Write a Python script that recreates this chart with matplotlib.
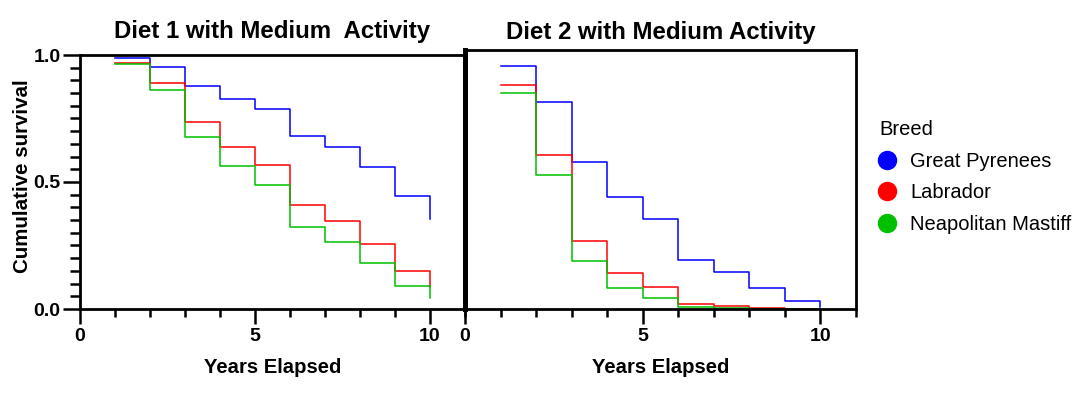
import matplotlib
matplotlib.use("Agg")
import matplotlib.pyplot as plt
from matplotlib.lines import Line2D
from matplotlib.ticker import MultipleLocator

plt.rcParams['font.family'] = ['Liberation Sans', 'DejaVu Sans']

years = [1, 2, 3, 4, 5, 6, 7, 8, 9, 10]
breeds = ["Great Pyrenees", "Labrador", "Neapolitan Mastiff"]
colors = ["#0000ff", "#ff0000", "#00c000"]

# diet 1, medium activity
diet1_pyrenees = [0.987, 0.951, 0.878, 0.826, 0.786, 0.683, 0.638, 0.561, 0.446, 0.354]
diet1_labrador = [0.970, 0.889, 0.735, 0.636, 0.566, 0.409, 0.346, 0.257, 0.149, 0.085]
diet1_mastiff = [0.963, 0.861, 0.679, 0.564, 0.488, 0.322, 0.265, 0.181, 0.090, 0.043]

# diet 2, medium activity
diet2_pyrenees = [0.940, 0.801, 0.566, 0.432, 0.348, 0.190, 0.143, 0.081, 0.030, 0.008]
diet2_labrador = [0.864, 0.593, 0.262, 0.139, 0.084, 0.019, 0.010, 0.004, 0.001, 0.0]
diet2_mastiff = [0.833, 0.518, 0.186, 0.082, 0.042, 0.006, 0.003, 0.0, 0.0, 0.0]

W, H = 1092, 397
fig = plt.figure(figsize=(W / 100, H / 100), dpi=100)

def px_axes(x0, x1, ytop, ybot):
    return fig.add_axes([x0 / W, 1 - ybot / H, (x1 - x0) / W, (ybot - ytop) / H])

ax1 = px_axes(80, 465, 55, 309)
ax2 = px_axes(465, 856, 50, 309)

panels = [
    (ax1, "Diet 1 with Medium  Activity", [diet1_pyrenees, diet1_labrador, diet1_mastiff], 12.5),
    (ax2, "Diet 2 with Medium Activity", [diet2_pyrenees, diet2_labrador, diet2_mastiff], 8),
]

for ax, title, series, tpad in panels:
    for vals, c in zip(series, colors):
        ax.step(years, vals, where='post', color=c, lw=1.1)
    ax.set_xlim(0, 11)
    ax.set_ylim(0, 1)
    ax.xaxis.set_minor_locator(MultipleLocator(1))
    ax.set_xticks([0, 5, 10])
    ax.tick_params(axis='x', which='major', length=11, width=1.8, labelsize=14, pad=3)
    ax.tick_params(axis='x', which='minor', length=6, width=1.8)
    for lbl in ax.get_xticklabels():
        lbl.set_fontweight('bold')
    for s in ax.spines.values():
        s.set_linewidth(2.0)
    ax.set_title(title, fontsize=17.3, fontweight='bold', pad=tpad)
    ax.set_xlabel("Years Elapsed", fontsize=14.6, fontweight='bold', labelpad=9)

ax1.set_yticks([0, 0.5, 1.0])
ax1.set_yticklabels(["0.0", "0.5", "1.0"], fontweight='bold')
ax1.yaxis.set_minor_locator(MultipleLocator(0.05))
ax1.tick_params(axis='y', which='major', length=12, width=1.8, labelsize=14, pad=2)
ax1.tick_params(axis='y', which='minor', length=7, width=1.8)
ax1.set_ylabel("Cumulative survival", fontsize=14.8, fontweight='bold')
ax1.yaxis.set_label_coords(-0.124, 0.525)

ax2.set_yticks([])
ax2.spines['left'].set_linewidth(3.6)

handles = [Line2D([], [], ls='none', marker='o', markersize=13, color=c) for c in colors]
leg = fig.legend(handles, breeds, title="Breed", loc='upper left',
                 bbox_to_anchor=(861 / W, 1 - 102 / H), frameon=False,
                 fontsize=14.5, title_fontsize=14.5, handletextpad=0.75,
                 labelspacing=0.62, handlelength=0.8, alignment='left')

fig.savefig("out.png", dpi=100)
